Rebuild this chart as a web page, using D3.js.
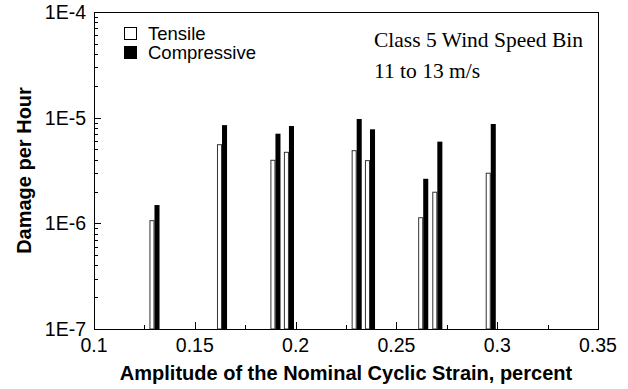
<!DOCTYPE html>
<html>
<head>
<meta charset="utf-8">
<script src="https://cdn.jsdelivr.net/npm/d3@7"></script>
<style>
  body { margin: 0; background: #fff; }
  svg { display: block; }
  .tick-label { font-family: "Liberation Sans", Arial, sans-serif; font-size: 19.5px; fill: #000; }
  .axis-title { font-family: "Liberation Sans", Arial, sans-serif; font-size: 20px; font-weight: bold; fill: #000; }
  .legend-text { font-family: "Liberation Sans", Arial, sans-serif; font-size: 18.5px; fill: #000; }
  .note { font-family: "Liberation Serif", "Times New Roman", serif; font-size: 21.5px; fill: #000; }
</style>
</head>
<body>
<div id="chart"></div>
<script>
// strain amplitude (percent) for each bin pair
const strains = [0.130, 0.1635, 0.190, 0.1967, 0.2303, 0.2369, 0.2633, 0.2703, 0.2968];
// damage per hour
const tensile = [1.06e-6, 5.55e-6, 3.95e-6, 4.70e-6, 4.87e-6, 3.92e-6, 1.13e-6, 1.97e-6, 2.98e-6];
const compressive = [1.49e-6, 8.5e-6, 7.05e-6, 8.34e-6, 9.71e-6, 7.76e-6, 2.64e-6, 5.93e-6, 8.71e-6];
const xTicks = [0.1, 0.15, 0.2, 0.25, 0.3, 0.35];
const yTickLabels = ["1E-7", "1E-6", "1E-5", "1E-4"];
const legendLabels = ["Tensile", "Compressive"];
const noteLines = ["Class 5 Wind Speed Bin", "11 to 13 m/s"];

const width = 628, height = 389;
const plot = { left: 94, right: 598, top: 12, bottom: 329 };
const barW = 0.0025; // bar width in strain units

const svg = d3.select("#chart").append("svg")
  .attr("width", width)
  .attr("height", height);

const x = d3.scaleLinear().domain([0.1, 0.35]).range([plot.left, plot.right]);
const y = d3.scaleLog().domain([1e-7, 1e-4]).range([plot.bottom, plot.top]);

// bars
const pairs = strains.map((s, i) => ({ s: s, t: tensile[i], c: compressive[i] }));

svg.selectAll("rect.tens")
  .data(pairs)
  .enter()
  .append("rect")
  .attr("class", "tens")
  .attr("x", d => x(d.s - barW) + 0.5)
  .attr("y", d => y(d.t))
  .attr("width", d => x(d.s) - x(d.s - barW) - 1)
  .attr("height", d => y(1e-7) - y(d.t))
  .attr("fill", "#fff")
  .attr("stroke", "#333")
  .attr("stroke-width", 1);

svg.selectAll("rect.comp")
  .data(pairs)
  .enter()
  .append("rect")
  .attr("class", "comp")
  .attr("x", d => x(d.s))
  .attr("y", d => y(d.c))
  .attr("width", d => x(d.s + barW) - x(d.s))
  .attr("height", d => y(1e-7) - y(d.c))
  .attr("fill", "#000");

// frame
svg.append("rect")
  .attr("x", plot.left + 0.5)
  .attr("y", plot.top + 0.5)
  .attr("width", plot.right - plot.left)
  .attr("height", plot.bottom - plot.top)
  .attr("fill", "none")
  .attr("stroke", "#000")
  .attr("stroke-width", 1);

// x ticks (inward), major + minor
const xMinor = d3.range(0, 11).map(i => 0.1 + i * 0.025);
svg.selectAll("line.xtick")
  .data(xMinor)
  .enter()
  .append("line")
  .attr("x1", d => Math.round(x(d)) + 0.5)
  .attr("x2", d => Math.round(x(d)) + 0.5)
  .attr("y1", plot.bottom)
  .attr("y2", (d, i) => plot.bottom - (i % 2 === 0 ? 7 : 4))
  .attr("stroke", "#000");

svg.selectAll("text.xlab")
  .data(xTicks)
  .enter()
  .append("text")
  .attr("class", "tick-label")
  .attr("x", d => x(d))
  .attr("y", plot.bottom + 23)
  .attr("text-anchor", "middle")
  .text(d => d);

// y ticks (inward) from the log scale
const yAll = y.ticks();
svg.selectAll("line.ytick")
  .data(yAll)
  .enter()
  .append("line")
  .attr("x1", plot.left)
  .attr("x2", d => {
    const major = Math.abs(Math.log10(d) - Math.round(Math.log10(d))) < 1e-9;
    return plot.left + (major ? 7 : 4);
  })
  .attr("y1", d => Math.round(y(d)) + 0.5)
  .attr("y2", d => Math.round(y(d)) + 0.5)
  .attr("stroke", "#000");

const yMajor = [1e-7, 1e-6, 1e-5, 1e-4];
svg.selectAll("text.ylab")
  .data(yMajor)
  .enter()
  .append("text")
  .attr("class", "tick-label")
  .attr("x", plot.left - 8)
  .attr("y", d => y(d) + 7)
  .attr("text-anchor", "end")
  .text((d, i) => yTickLabels[i]);

// axis titles
svg.append("text")
  .attr("class", "axis-title")
  .attr("x", (plot.left + plot.right) / 2)
  .attr("y", 380)
  .attr("text-anchor", "middle")
  .text("Amplitude of the Nominal Cyclic Strain, percent");

svg.append("text")
  .attr("class", "axis-title")
  .attr("transform", `translate(31, ${(plot.top + plot.bottom) / 2}) rotate(-90)`)
  .attr("text-anchor", "middle")
  .text("Damage per Hour");

// legend
const legend = svg.append("g").attr("transform", "translate(124, 27)");
legendLabels.forEach((lab, i) => {
  legend.append("rect")
    .attr("x", 0.5)
    .attr("y", i * 19 + 0.5)
    .attr("width", 12)
    .attr("height", 12)
    .attr("fill", i === 0 ? "#fff" : "#000")
    .attr("stroke", "#000");
  legend.append("text")
    .attr("class", "legend-text")
    .attr("x", 24)
    .attr("y", i * 19 + 13)
    .text(lab);
});

// annotation
noteLines.forEach((t, i) => {
  svg.append("text")
    .attr("class", "note")
    .attr("x", 374)
    .attr("y", 47 + i * 31)
    .text(t);
});
</script>
</body>
</html>
